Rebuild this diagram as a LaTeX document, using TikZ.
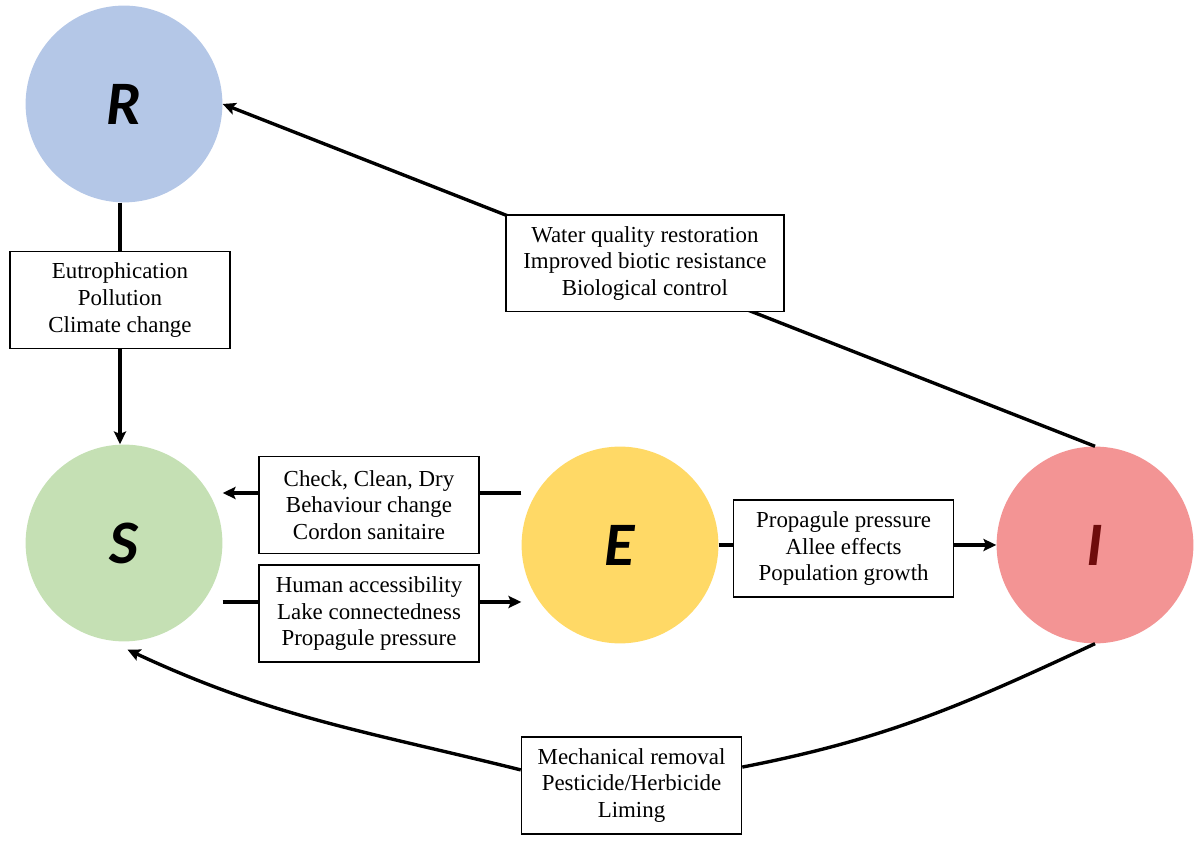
\documentclass[tikz,border=0pt]{standalone}
\usepackage{fontspec}
\setmainfont{Liberation Serif}
\newfontfamily\statefont{Carlito}
\usetikzlibrary{arrows.meta}
\definecolor{rblue}{RGB}{180,199,231}
\definecolor{sgreen}{RGB}{197,224,180}
\definecolor{eyellow}{RGB}{255,217,102}
\definecolor{ipink}{RGB}{243,148,148}
\definecolor{idark}{RGB}{110,12,12}
\begin{document}
\begin{tikzpicture}[>={Stealth[length=0.32cm,width=0.3cm,inset=0.06cm]},
  state/.style={circle,minimum size=4.92cm,inner sep=0pt,font=\statefont\bfseries\itshape\fontsize{44}{44}\selectfont},
  factor/.style={draw,line width=1.1pt,fill=white,minimum width=5.5cm,minimum height=2.42cm,align=center,inner sep=2pt,font=\fontsize{16.3}{19}\selectfont},
  conn/.style={line width=2.4pt}]
\useasboundingbox (0,0) rectangle (30,21.2);
\node[state,fill=rblue] (R) at (3.1,18.6) {R};
\node[state,fill=sgreen] (S) at (3.1,7.625) {S};
\node[state,fill=eyellow] (E) at (15.5,7.575) {E};
\node[state,fill=ipink,text=idark] (I) at (27.375,7.575) {I};

\node[factor] (eut) at (3.0,13.7) {Eutrophication\\Pollution\\Climate change};
\draw[conn] (eut.north |- R.south) -- (eut.north);
\draw[conn,->] (eut.south) -- (eut.south |- S.north);

\draw[conn,->] (I.north) -- node[factor,minimum width=6.95cm,pos=0.516,yshift=0.16cm] (wq) {Water quality restoration\\Improved biotic resistance\\Biological control} (R.east);

\coordinate (ccdE) at ([yshift=1.3cm]E.west);
\coordinate (ccdS) at (ccdE -| S.east);
\draw[conn,->] (ccdE) -- node[factor,pos=0.51,yshift=-0.3cm] (ccd) {Check, Clean, Dry\\Behaviour change\\Cordon sanitaire} (ccdS);

\coordinate (hacE) at ([yshift=-1.425cm]E.west);
\coordinate (hacS) at (hacE -| S.east);
\draw[conn,->] (hacS) -- node[factor,pos=0.49,yshift=-0.29cm] (hac) {Human accessibility\\Lake connectedness\\Propagule pressure} (hacE);

\draw[conn,->] (E.east) -- node[factor,pos=0.45,yshift=-0.09cm] (ppa) {Propagule pressure\\Allee effects\\Population growth} (I.west);

\node[factor] (mec) at (15.7875,1.5625) {Mechanical removal\\Pesticide/Herbicide\\Liming};
\draw[conn] (I.south) to[out=205,in=11] ([yshift=0.46cm]mec.east);
\draw[conn,->] ([yshift=0.39cm]mec.west) to[out=166,in=-25] ([yshift=-0.2cm]S.-88);

\end{tikzpicture}
\end{document}
